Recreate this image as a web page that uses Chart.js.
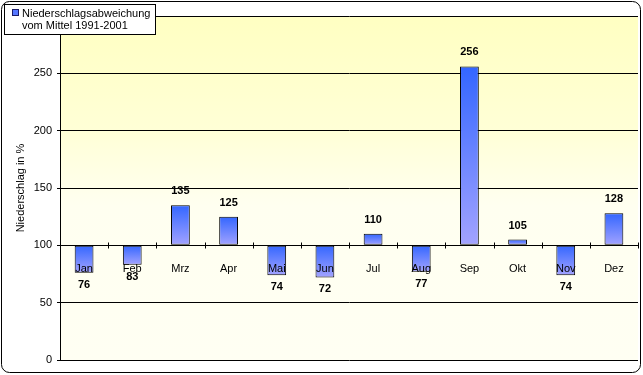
<!DOCTYPE html>
<html>
<head>
<meta charset="utf-8">
<script src="https://cdn.jsdelivr.net/npm/chart.js@4/dist/chart.umd.min.js"></script>
<style>
  html, body { margin: 0; padding: 0; background: #ffffff; }
  #wrap { width: 643px; height: 375px; position: relative; }
</style>
</head>
<body>
<div id="wrap"><canvas id="c" width="643" height="375"></canvas></div>
<script>
const months = ['Jan','Feb','Mrz','Apr','Mai','Jun','Jul','Aug','Sep','Okt','Nov','Dez'];
const precipPercent = [76, 83, 135, 125, 74, 72, 110, 77, 256, 105, 74, 128];
const baseValue = 100;
const yTickValues = [0, 50, 100, 150, 200, 250, 300];
const yTickLabels = ['0', '50', '100', '150', '200', '250', ''];
const legendLines = ['Niederschlagsabweichung', 'vom Mittel 1991-2001'];
const yTitle = 'Niederschlag in %';

const FONT = '"Liberation Sans", Arial, sans-serif';

function barGradient(ctx) {
  const chart = ctx.chart;
  const y = chart.scales && chart.scales.y;
  if (!y || ctx.type !== 'data' || !isFinite(y.getPixelForValue(0))) return '#3366ff';
  const v = ctx.raw;
  const top = y.getPixelForValue(Math.max(v, baseValue));
  const bot = y.getPixelForValue(Math.min(v, baseValue));
  const g = chart.ctx.createLinearGradient(0, top, 0, bot);
  g.addColorStop(0, '#3366ff');
  g.addColorStop(1, '#a3a3ff');
  return g;
}

const decorPlugin = {
  id: 'decor',
  beforeDraw(chart) {
    const c = chart.ctx;
    const a = chart.chartArea;
    c.save();
    c.fillStyle = '#ffffff';
    c.fillRect(0, 0, chart.width, chart.height);
    const g = c.createLinearGradient(0, a.top, 0, a.bottom);
    g.addColorStop(0, '#ffffc2');
    g.addColorStop(0.33, '#ffffd6');
    g.addColorStop(0.55, '#fffff0');
    g.addColorStop(1, '#fffff3');
    c.fillStyle = g;
    c.fillRect(a.left, a.top, a.right - a.left, a.bottom - a.top);
    c.restore();
  },
  afterDatasetsDraw(chart) {
    const c = chart.ctx;
    const xs = chart.scales.x;
    const ys = chart.scales.y;
    const yAxis = Math.round(ys.getPixelForValue(baseValue)) + 0.5;
    c.save();
    // category boundary tick marks crossing the axis line
    c.strokeStyle = '#000';
    c.lineWidth = 1;
    c.beginPath();
    for (let i = 1; i <= months.length; i++) {
      const px = Math.round(xs.getPixelForValue(i - 0.5)) + 0.5;
      c.moveTo(px, yAxis - 3);
      c.lineTo(px, yAxis + 3);
    }
    c.stroke();
    // value labels
    const meta = chart.getDatasetMeta(0);
    c.font = 'bold 11px ' + FONT;
    c.fillStyle = '#000';
    c.textAlign = 'center';
    c.textBaseline = 'middle';
    meta.data.forEach((bar, i) => {
      const v = precipPercent[i];
      const yy = v >= baseValue ? bar.y - 14 : bar.y + 12;
      c.fillText(String(v), bar.x, yy);
    });
    c.restore();
  },
  afterDraw(chart) {
    const c = chart.ctx;
    c.save();
    // legend box
    c.fillStyle = '#ffffff';
    c.fillRect(4.5, 4.5, 151, 30);
    c.strokeStyle = '#000';
    c.lineWidth = 1;
    c.strokeRect(4.5, 4.5, 151, 30);
    c.fillStyle = '#5577ff';
    c.fillRect(12.5, 9.5, 6, 6);
    c.strokeStyle = '#1a1a66';
    c.strokeRect(12.5, 9.5, 6, 6);
    c.fillStyle = '#000';
    c.font = '11px ' + FONT;
    c.textAlign = 'left';
    c.textBaseline = 'middle';
    c.fillText(legendLines[0], 22, 14);
    c.fillText(legendLines[1], 22, 26);
    // outer frame
    c.beginPath();
    c.roundRect(1.5, 1.5, 639, 371, 8);
    c.strokeStyle = '#000';
    c.stroke();
    c.restore();
  }
};

new Chart(document.getElementById('c'), {
  type: 'bar',
  data: {
    labels: months,
    datasets: [{
      label: legendLines.join(' '),
      data: precipPercent,
      base: baseValue,
      backgroundColor: barGradient,
      borderColor: '#000000',
      borderWidth: 1,
      borderSkipped: false,
      barPercentage: 0.39,
      categoryPercentage: 1.0
    }]
  },
  options: {
    responsive: false,
    animation: false,
    devicePixelRatio: 1,
    layout: { padding: { left: 0, right: 5, top: 16, bottom: 15 } },
    plugins: { legend: { display: false }, tooltip: { enabled: false } },
    scales: {
      x: {
        position: { y: baseValue },
        offset: true,
        grid: { display: false, offset: true },
        border: { display: true, color: '#000', width: 1 },
        ticks: {
          z: 1,
          color: '#000',
          font: { family: FONT, size: 11 },
          padding: 9,
          maxRotation: 0,
          autoSkip: false
        }
      },
      y: {
        min: 0,
        max: 300,
        afterFit(scale) { scale.width = 60; },
        afterBuildTicks(scale) { scale.ticks = yTickValues.map(v => ({ value: v })); },
        grid: { color: '#000', lineWidth: 1, drawTicks: true, tickLength: 3, tickColor: '#000' },
        border: { display: true, color: '#000', width: 1 },
        ticks: {
          color: '#000',
          font: { family: FONT, size: 11 },
          padding: 5,
          callback: (v, i) => yTickLabels[i]
        },
        title: {
          display: true,
          text: yTitle,
          color: '#000',
          font: { family: FONT, size: 11 },
          padding: { top: 14, bottom: 0 }
        }
      }
    }
  },
  plugins: [decorPlugin]
});
</script>
</body>
</html>
